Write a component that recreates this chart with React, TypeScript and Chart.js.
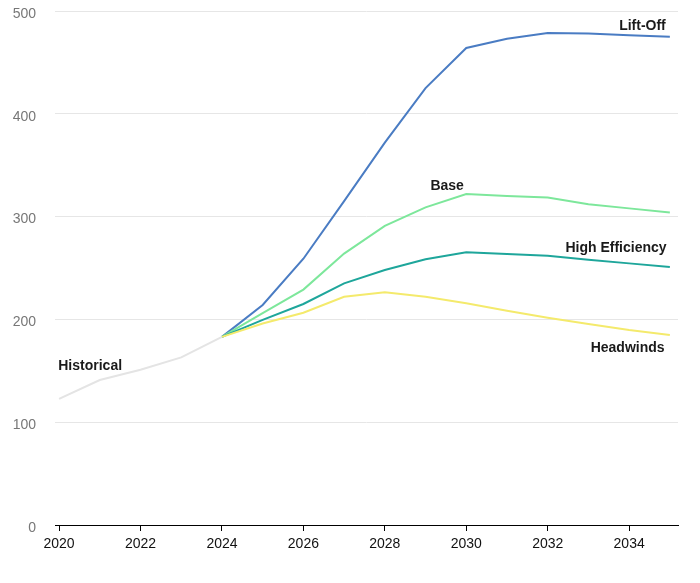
import React, { useEffect, useRef } from "react";
import { Chart, registerables } from "chart.js";

Chart.register(...registerables);

const historicalYears = [2020, 2021, 2022, 2023, 2024];
const historicalValues = [122.6, 141, 151, 163, 183];

const scenarioYears = [2024, 2025, 2026, 2027, 2028, 2029, 2030, 2031, 2032, 2033, 2034, 2035];
const liftOff = [183, 214, 259, 315, 372, 425, 464, 473, 478.5, 478, 476.5, 475];
const base = [183, 206, 229, 264, 291, 309, 322, 320, 318.5, 312, 308, 304];
const highEfficiency = [183, 199.5, 215, 235, 248, 258.5, 265.3, 263.6, 262, 258, 254.5, 251];
const headwinds = [183, 196, 206.5, 222, 226.4, 222, 215.7, 208.5, 201.7, 195.5, 189.7, 184.8];

const xTickValues = [2020, 2022, 2024, 2026, 2028, 2030, 2032, 2034];
const yTickValues = [0, 100, 200, 300, 400, 500];

const seriesNames = ["Historical", "Lift-Off", "Base", "High Efficiency", "Headwinds"];
// Series label anchors, in data coordinates
const labelAnchors = [
  { text: "Historical", x: 2019.98, y: 154.7, align: "left" },
  { text: "Lift-Off", x: 2034.9, y: 485, align: "right" },
  { text: "Base", x: 2029.53, y: 330, align: "center" },
  { text: "High Efficiency", x: 2034.92, y: 269.5, align: "right" },
  { text: "Headwinds", x: 2034.87, y: 172, align: "right" },
];

const FONT = "'Liberation Sans', Arial, Helvetica, sans-serif";

const toPoints = (xs: number[], ys: number[]) => xs.map((x, i) => ({ x, y: ys[i] }));

const labelPlugin = {
  id: "seriesLabels",
  afterDatasetsDraw(chart: any) {
    const { ctx, scales } = chart;
    ctx.save();
    ctx.font = `bold 14px ${FONT}`;
    ctx.fillStyle = "#1a1a1a";
    ctx.textBaseline = "middle";
    for (const a of labelAnchors) {
      ctx.textAlign = a.align as CanvasTextAlign;
      ctx.fillText(a.text, scales.x.getPixelForValue(a.x), scales.y.getPixelForValue(a.y));
    }
    ctx.restore();
  },
};

export default function App() {
  const ref = useRef<HTMLCanvasElement | null>(null);

  useEffect(() => {
    if (!ref.current) return;
    const mk = (label: string, data: any[], color: string) => ({
      label,
      data,
      borderColor: color,
      backgroundColor: color,
      borderWidth: 2,
      pointRadius: 0,
      pointHoverRadius: 0,
      tension: 0,
      fill: false,
    });
    const chart = new Chart(ref.current, {
      type: "line",
      data: {
        datasets: [
          mk(seriesNames[0], toPoints(historicalYears, historicalValues), "#e4e4e4"),
          mk(seriesNames[4], toPoints(scenarioYears, headwinds), "#f4ea6c"),
          mk(seriesNames[3], toPoints(scenarioYears, highEfficiency), "#1ea69b"),
          mk(seriesNames[2], toPoints(scenarioYears, base), "#7de79b"),
          mk(seriesNames[1], toPoints(scenarioYears, liftOff), "#4a7cc3"),
        ],
      },
      options: {
        animation: false,
        responsive: false,
        maintainAspectRatio: false,
        layout: { autoPadding: false, padding: { top: 11, right: 14, left: 0, bottom: 0 } },
        plugins: {
          legend: { display: false },
          tooltip: { enabled: false },
        },
        scales: {
          x: {
            type: "linear",
            min: 2019.9,
            max: 2035.2,
            afterBuildTicks: (s: any) => {
              s.ticks = xTickValues.map((v) => ({ value: v }));
            },
            afterFit: (s: any) => {
              s.height = 50;
              s.paddingLeft = 0;
              s.paddingRight = 0;
            },
            grid: {
              display: true,
              drawOnChartArea: false,
              drawTicks: true,
              tickLength: 6,
              color: "#000",
            },
            border: { display: true, color: "#000", width: 1 },
            ticks: {
              padding: 5,
              color: "#111",
              font: { family: FONT, size: 14 },
              callback: (v: any) => String(v),
              maxRotation: 0,
              autoSkip: false,
            },
          },
          y: {
            min: 0,
            max: 500,
            afterBuildTicks: (s: any) => {
              s.ticks = yTickValues.map((v) => ({ value: v }));
            },
            afterFit: (s: any) => {
              s.width = 47;
              s.paddingTop = 0;
              s.paddingBottom = 0;
            },
            grid: { color: "#e6e6e6", drawTicks: false, lineWidth: 1 },
            border: { display: false },
            ticks: {
              padding: 19,
              labelOffset: 3,
              color: "#777",
              font: { family: FONT, size: 14 },
            },
          },
        },
      },
      plugins: [labelPlugin],
    } as any);
    return () => chart.destroy();
  }, []);

  return (
    <div style={{ marginTop: -8 }}>
      <canvas ref={ref} width={684} height={575} style={{ display: "block" }} />
    </div>
  );
}
